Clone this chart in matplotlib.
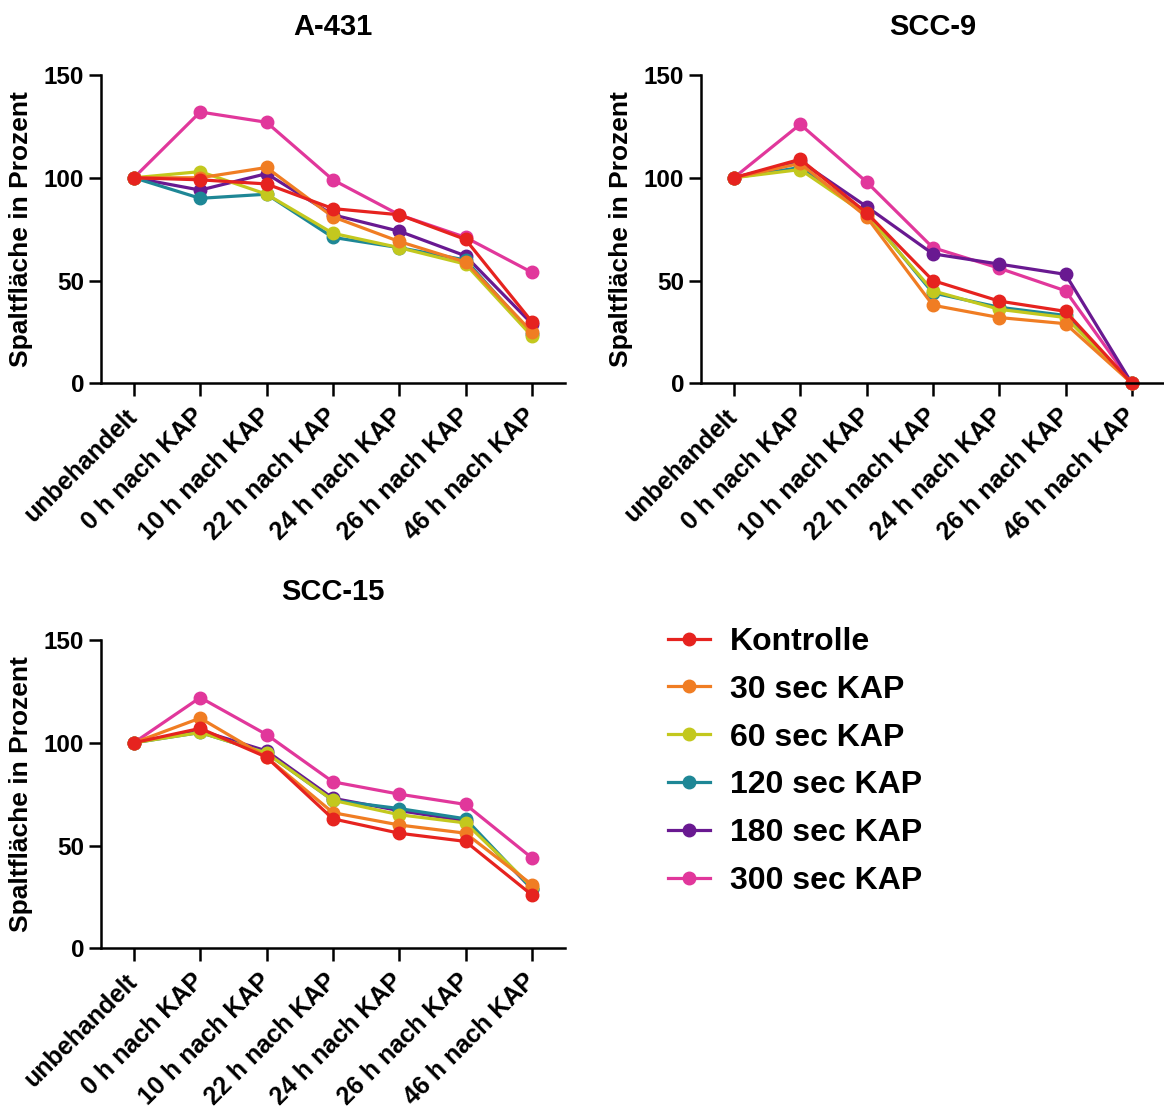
import matplotlib
matplotlib.use('Agg')
import matplotlib.pyplot as plt
from matplotlib.lines import Line2D
from matplotlib.transforms import ScaledTranslation

plt.rcParams['font.family'] = ['Liberation Sans', 'DejaVu Sans']
plt.rcParams['font.weight'] = 'bold'

# x categories and series
timepoints = ['unbehandelt', '0 h nach KAP', '10 h nach KAP', '22 h nach KAP',
              '24 h nach KAP', '26 h nach KAP', '46 h nach KAP']
groups = ['Kontrolle', '30 sec KAP', '60 sec KAP', '120 sec KAP', '180 sec KAP', '300 sec KAP']
colors = ['#E6231F', '#F07D23', '#C3C81E', '#1E8796', '#691991', '#E1379B']

a431 = [
    [100, 99, 97, 85, 82, 70, 30],
    [100, 100, 105, 81, 69, 59, 25],
    [100, 103, 92, 73, 66, 58, 23],
    [100, 90, 92, 71, 66, 60, 24],
    [100, 94, 102, 82, 74, 62, 29],
    [100, 132, 127, 99, 82, 71, 54],
]
scc9 = [
    [100, 109, 83, 50, 40, 35, 0],
    [100, 107, 81, 38, 32, 29, 0],
    [100, 104, 82, 45, 36, 32, 0],
    [100, 105, 83, 44, 37, 33, 0],
    [100, 108, 86, 63, 58, 53, 0],
    [100, 126, 98, 66, 56, 45, 0],
]
scc15 = [
    [100, 107, 93, 63, 56, 52, 26],
    [100, 112, 93, 66, 60, 56, 31],
    [100, 105, 95, 72, 65, 61, 30],
    [100, 105, 95, 72, 68, 63, 29],
    [100, 106, 96, 73, 67, 62, 29],
    [100, 122, 104, 81, 75, 70, 44],
]

W, H = 1164, 1111
fig = plt.figure(figsize=(W / 100, H / 100), dpi=100)
LW, MS = 2.3, 9


def panel(rect, title, data):
    ax = fig.add_axes(rect)
    x = list(range(len(timepoints)))
    # draw Kontrolle last so it sits on top
    for i in reversed(range(len(groups))):
        ax.plot(x, data[i], '-o', color=colors[i], lw=LW, ms=MS, clip_on=False)
    ax.set_xlim(-0.5, 6.5)
    ax.set_ylim(0, 150)
    ax.set_yticks([0, 50, 100, 150])
    ax.set_xticks(x)
    ax.set_xticklabels(timepoints, rotation=45, ha='right', va='center',
                       rotation_mode='anchor', fontsize=18, fontweight='bold')
    shift = ScaledTranslation(6 / 72, -4 / 72, fig.dpi_scale_trans)
    for lab in ax.get_xticklabels():
        lab.set_transform(lab.get_transform() + shift)
    ax.tick_params(axis='x', length=9, width=1.8, pad=12)
    ax.tick_params(axis='y', length=9, width=1.8, pad=3, labelsize=17.5)
    for lab in ax.get_yticklabels():
        lab.set_fontweight('bold')
    for s in ['top', 'right']:
        ax.spines[s].set_visible(False)
    for s in ['left', 'bottom']:
        ax.spines[s].set_linewidth(1.8)
    ax.set_title(title, fontsize=21, fontweight='bold', pad=29)
    ax.set_ylabel('Spaltfläche in Prozent', fontsize=19, fontweight='bold')
    ax.yaxis.set_label_coords(-0.146, 0.5)
    return ax


aw = (565 - 100.7) / W
ah = 308.3 / H
panel([100.7 / W, 1 - 383.3 / H, aw, ah], 'A-431', a431)
panel([700.7 / W, 1 - 383.3 / H, aw, ah], 'SCC-9', scc9)
panel([100.7 / W, 1 - 948.3 / H, aw, ah], 'SCC-15', scc15)

handles = [Line2D([], [], color=c, marker='o', lw=LW, ms=MS) for c in colors]
fig.legend(handles, groups, loc='center left', bbox_to_anchor=(668 / W, 1 - 761.5 / H),
           frameon=False, borderpad=0, borderaxespad=0, handlelength=1.3,
           handletextpad=0.65, labelspacing=0.56,
           prop={'size': 23, 'weight': 'bold'})

fig.savefig('out.png', dpi=100)
